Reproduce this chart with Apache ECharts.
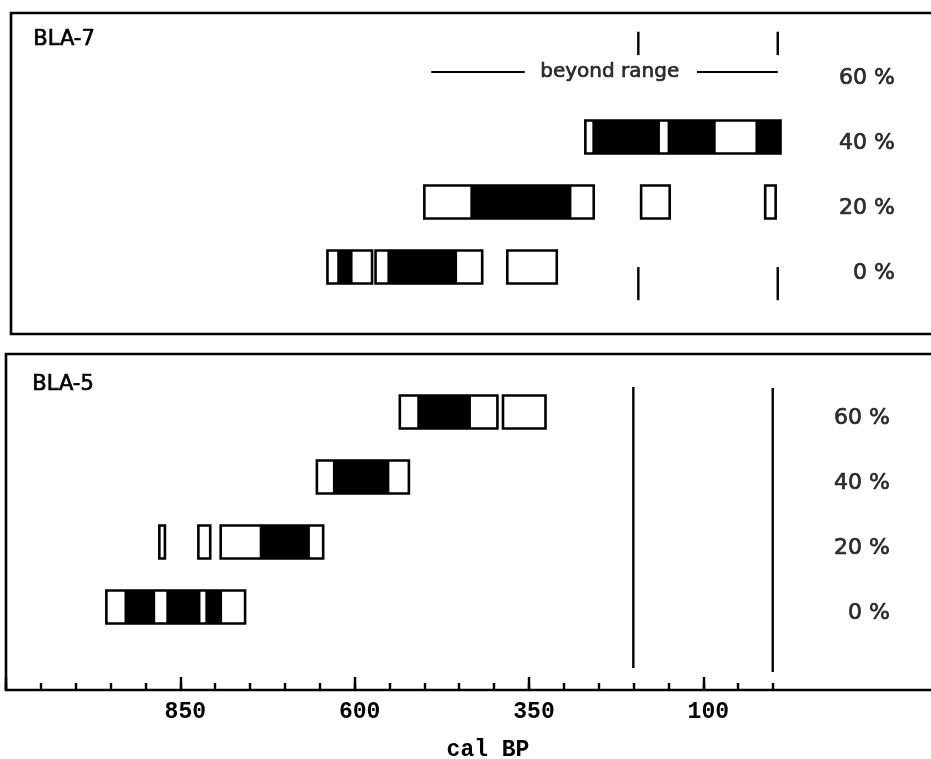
<!DOCTYPE html>
<html>
<head>
<meta charset="utf-8">
<script src="https://cdn.jsdelivr.net/npm/echarts@6.0.0/dist/echarts.min.js"></script>
<style>
  html, body { margin: 0; padding: 0; background: #fff; }
  #chart { width: 931px; height: 759px; }
</style>
</head>
<body>
<div id="chart"></div>
<script>
// ---- data (cal BP values) ----
const rowLabels = ['0 %', '20 %', '40 %', '60 %'];
const majorTickLabels = [850, 600, 350, 100];

// BLA-7: outlined boxes [row, from, to] and black parts [row, from, to]
const bla7Boxes = [[2, 276, -4], [1, 507, 264], [1, 196, 155], [1, 18, 3],
                   [0, 646, 582], [0, 577, 424], [0, 388, 317]];
const bla7Black = [[2, 266, 169], [2, 158, 89], [2, 32, -4], [1, 441, 296],
                   [0, 632, 610], [0, 560, 460]];
// BLA-5
const bla5Boxes = [[3, 535, 395], [3, 387, 326], [2, 654, 522],
                   [1, 880, 872], [1, 824, 807], [1, 792, 645], [0, 956, 757]];
const bla5Black = [[3, 510, 433], [2, 631, 550], [1, 736, 664],
                   [0, 930, 886], [0, 870, 821], [0, 814, 790]];

// vertical rules [calBP, rowFrom, rowTo]
const bla7Rules = [[200, 3.62, 3.26], [0, 3.62, 3.26], [200, 0, -0.51], [0, 0, -0.51]];
const bla5Rules = [[200, 3.385, -0.94], [0, 3.37, -1.0]];
// "beyond range" lines [from, to, row] and label position [calBP, row]
const beyondLines = [[497, 363, 3], [116, 0, 3]];
const beyondText = [241, 3];

// ---- layout constants ----
const HALF = 0.254;          // half bar height, in row units
const LABEL_BP = -168;       // where the % labels end
const FONT = 'DejaVu Sans';

function boxRender(params, api) {
  const r = api.value(0), a = api.value(1), b = api.value(2);
  const p1 = api.coord([a, r + HALF]);
  const p2 = api.coord([b, r - HALF]);
  return {
    type: 'rect',
    shape: { x: Math.min(p1[0], p2[0]), y: Math.min(p1[1], p2[1]),
             width: Math.abs(p2[0] - p1[0]), height: Math.abs(p2[1] - p1[1]) },
    style: { fill: '#fff', stroke: '#000', lineWidth: 2.6 }
  };
}
function blackRender(params, api) {
  const r = api.value(0), a = api.value(1), b = api.value(2);
  const p1 = api.coord([a, r + HALF]);
  const p2 = api.coord([b, r - HALF]);
  return {
    type: 'rect',
    shape: { x: Math.min(p1[0], p2[0]), y: Math.min(p1[1], p2[1]),
             width: Math.abs(p2[0] - p1[0]), height: Math.abs(p2[1] - p1[1]) },
    style: { fill: '#000' }
  };
}
function ruleRender(params, api) {
  const x = api.value(0);
  const p1 = api.coord([x, api.value(1)]);
  const p2 = api.coord([x, api.value(2)]);
  return { type: 'line', shape: { x1: p1[0], y1: p1[1], x2: p2[0], y2: p2[1] },
           style: { stroke: '#000', lineWidth: 2.4 } };
}
function hLineRender(params, api) {
  const p1 = api.coord([api.value(0), api.value(2)]);
  const p2 = api.coord([api.value(1), api.value(2)]);
  return { type: 'line', shape: { x1: p1[0], y1: p1[1], x2: p2[0], y2: p2[1] },
           style: { stroke: '#000', lineWidth: 2 } };
}

function custom(xi, data, render) {
  return { type: 'custom', coordinateSystem: 'cartesian2d', xAxisIndex: xi, yAxisIndex: xi,
           data: data, renderItem: render, silent: true, clip: false };
}
function rowLabelSeries(xi) {
  return {
    type: 'scatter', xAxisIndex: xi, yAxisIndex: xi, symbolSize: 0, silent: true,
    data: rowLabels.map((t, i) => [LABEL_BP, i, t]),
    label: { show: true, position: 'left', distance: 0, offset: [0, 6],
             formatter: p => p.data[2], color: '#000', fontSize: 22, fontFamily: FONT,
             textBorderColor: '#000', textBorderWidth: 0.7 }
  };
}

const gridBase = { show: true, borderColor: '#000', borderWidth: 2.6,
                   backgroundColor: 'transparent', outerBoundsMode: 'none', containLabel: false };

const hiddenX = { type: 'value', inverse: true, min: -250, max: 1100, show: false };

const option = {
  backgroundColor: '#fff',
  animation: false,
  grid: [
    Object.assign({}, gridBase, { left: 11, top: 13, width: 941, height: 321 }),
    Object.assign({}, gridBase, { left: 6, top: 354, width: 941, height: 336 }),
    { show: false, left: 6, width: 767, bottom: 69, height: 10, outerBoundsMode: 'none', containLabel: false },
    { show: false, left: 6, width: 697.3, bottom: 69, height: 10, outerBoundsMode: 'none', containLabel: false }
  ],
  xAxis: [
    Object.assign({ gridIndex: 0 }, hiddenX),
    Object.assign({ gridIndex: 1 }, hiddenX),
    { gridIndex: 2, type: 'value', inverse: true, min: 0, max: 1100, interval: 50,
      axisLine: { show: false }, splitLine: { show: false }, axisLabel: { show: false },
      axisTick: { show: true, inside: true, length: 7, lineStyle: { color: '#000', width: 2.4 } } },
    { gridIndex: 3, type: 'value', inverse: true, min: 100, max: 1100, interval: 250,
      axisLine: { show: false }, splitLine: { show: false },
      axisTick: { show: true, inside: true, length: 13, lineStyle: { color: '#000', width: 2.4 } },
      axisLabel: { show: true, margin: 11, color: '#000', fontSize: 23, fontWeight: 'bold',
                   fontFamily: 'Liberation Mono', padding: [0, 0, 0, 10],
                   formatter: v => majorTickLabels.indexOf(v) >= 0 ? String(v) : '' } }
  ],
  yAxis: [
    { gridIndex: 0, type: 'value', min: -1.03, max: 3.908, show: false },
    { gridIndex: 1, type: 'value', min: -1.277, max: 3.892, show: false },
    { gridIndex: 2, type: 'value', min: 0, max: 1, show: false },
    { gridIndex: 3, type: 'value', min: 0, max: 1, show: false }
  ],
  graphic: [
    { type: 'text', left: 33, top: 29, style: { text: 'BLA-7', font: '21px "DejaVu Sans"', fill: '#000',
      stroke: '#000', lineWidth: 0.7 } },
    { type: 'text', left: 32, top: 374, style: { text: 'BLA-5', font: '21px "DejaVu Sans"', fill: '#000',
      stroke: '#000', lineWidth: 0.7 } },
    { type: 'text', x: 488, y: 750, style: { text: 'cal BP', font: 'bold 23px "Liberation Mono"',
      fill: '#000', textAlign: 'center', textVerticalAlign: 'middle' } }
  ],
  series: [
    custom(0, bla7Boxes, boxRender),
    custom(0, bla7Black, blackRender),
    custom(0, bla7Rules, ruleRender),
    custom(0, beyondLines, hLineRender),
    { type: 'scatter', xAxisIndex: 0, yAxisIndex: 0, symbolSize: 0, silent: true,
      data: [beyondText],
      label: { show: true, position: 'inside', formatter: 'beyond range', color: '#000',
               fontSize: 20, fontFamily: FONT, textBorderColor: '#000', textBorderWidth: 0.7 } },
    rowLabelSeries(0),
    custom(1, bla5Boxes, boxRender),
    custom(1, bla5Black, blackRender),
    custom(1, bla5Rules, ruleRender),
    rowLabelSeries(1)
  ]
};

const chart = echarts.init(document.getElementById('chart'), null, { renderer: 'canvas' });
chart.setOption(option);
</script>
</body>
</html>
